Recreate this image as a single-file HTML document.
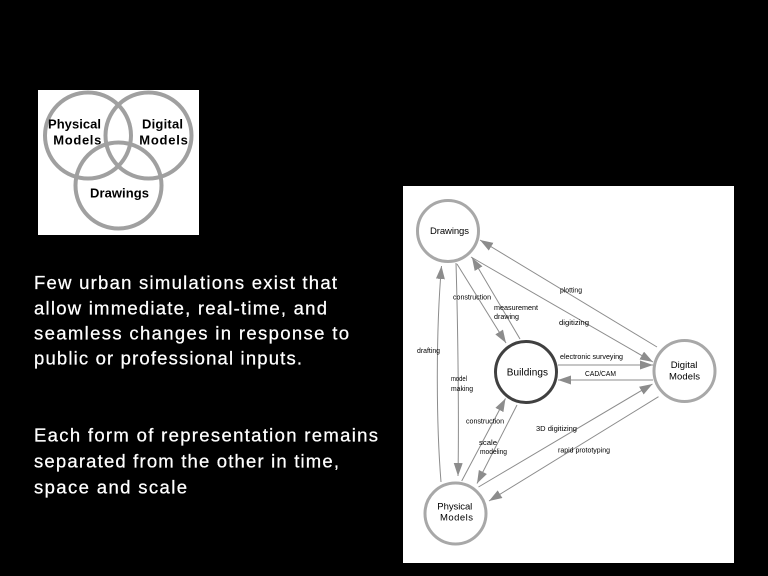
<!DOCTYPE html>
<html>
<head>
<meta charset="utf-8">
<style>
  html, body { margin:0; padding:0; background:#000; }
  body { width:768px; height:576px; overflow:hidden; }
  svg { display:block; }
  text { font-family: "Liberation Sans", Arial, sans-serif; }
</style>
</head>
<body>
<svg width="768" height="576" viewBox="0 0 768 576" xmlns="http://www.w3.org/2000/svg">
  <defs>
    <marker id="ah" markerUnits="userSpaceOnUse" markerWidth="14" markerHeight="10" refX="13" refY="4.5" orient="auto">
      <path d="M0,0 L13,4.5 L0,9 z" fill="#8c8c8c"/>
    </marker>
  </defs>
  <rect x="0" y="0" width="768" height="576" fill="#000"/>

  <!-- Venn diagram -->
  <rect x="38" y="90" width="161" height="145" fill="#fff"/>
  <g fill="none" stroke="#a0a0a0" stroke-width="4">
    <circle cx="88" cy="135.5" r="43"/>
    <circle cx="148.5" cy="135.5" r="43"/>
    <circle cx="118.5" cy="185.5" r="43"/>
  </g>
  <g font-weight="bold" font-size="13" fill="#000">
    <text x="48" y="128.7" textLength="53" lengthAdjust="spacing">Physical</text>
    <text x="53.3" y="144.7" textLength="48" lengthAdjust="spacing">Models</text>
    <text x="142" y="128.7" textLength="41" lengthAdjust="spacing">Digital</text>
    <text x="139.3" y="144.7" textLength="48.5" lengthAdjust="spacing">Models</text>
    <text x="90" y="197.3" textLength="59" lengthAdjust="spacing">Drawings</text>
  </g>

  <!-- Left text -->
  <g font-size="18.5" fill="#fff" stroke="#fff" stroke-width="0.25">
    <text x="34" y="289" textLength="303" lengthAdjust="spacing">Few urban simulations exist that</text>
    <text x="34" y="314.3" textLength="293" lengthAdjust="spacing">allow immediate, real-time, and</text>
    <text x="34" y="339.3" textLength="315" lengthAdjust="spacing">seamless changes in response to</text>
    <text x="34" y="364.3" textLength="268" lengthAdjust="spacing">public or professional inputs.</text>
    <text x="34" y="441.7" textLength="344" lengthAdjust="spacing">Each form of representation remains</text>
    <text x="34" y="467.3" textLength="305" lengthAdjust="spacing">separated from the other in time,</text>
    <text x="34" y="493.3" textLength="153" lengthAdjust="spacing">space and scale</text>
  </g>

  <!-- Right diagram -->
  <rect x="403" y="186" width="331" height="377" fill="#fff"/>

  <g fill="none" stroke="#8c8c8c" stroke-width="1" marker-end="url(#ah)">
    <path d="M441,482 C436,420 436,330 441.5,266"/>
    <path d="M456,263 C458,330 459,420 458,476"/>
    <path d="M457,264 L506,343"/>
    <path d="M520,339 L472,257.5"/>
    <path d="M471,257 L653,362"/>
    <path d="M657,347 L480,240"/>
    <path d="M558,365 L653,365"/>
    <path d="M653,380 L558,380"/>
    <path d="M461.7,481 L505.5,398.5"/>
    <path d="M517,405 L477,483.5"/>
    <path d="M478.5,487 L652.5,384"/>
    <path d="M658.5,396.7 L489,501"/>
  </g>

  <!-- nodes -->
  <g fill="#fff" stroke-width="3">
    <circle cx="448" cy="231" r="30.5" stroke="#a8a8a8"/>
    <circle cx="526" cy="372" r="30.5" stroke="#404040"/>
    <circle cx="684.5" cy="371" r="30.5" stroke="#a8a8a8"/>
    <circle cx="455.5" cy="513.5" r="30.5" stroke="#a8a8a8"/>
  </g>
  <g font-size="9.5" fill="#000">
    <text x="430" y="234" textLength="39" lengthAdjust="spacing">Drawings</text>
    <text x="506.7" y="375.5" font-size="10" textLength="41.3" lengthAdjust="spacing">Buildings</text>
    <text x="670.7" y="368" textLength="26.7" lengthAdjust="spacing">Digital</text>
    <text x="669" y="379.5" textLength="31" lengthAdjust="spacing">Models</text>
    <text x="437.3" y="509.5" textLength="35" lengthAdjust="spacing">Physical</text>
    <text x="440" y="520.5" textLength="33" lengthAdjust="spacing">Models</text>
  </g>

  <!-- edge labels -->
  <g font-size="7.5" fill="#000">
    <text x="560" y="292.5" textLength="22" lengthAdjust="spacingAndGlyphs">plotting</text>
    <text x="559" y="325" textLength="30" lengthAdjust="spacingAndGlyphs">digitizing</text>
    <text x="453" y="299.5" textLength="38" lengthAdjust="spacingAndGlyphs">construction</text>
    <text x="494" y="310" textLength="44" lengthAdjust="spacingAndGlyphs">measurement</text>
    <text x="494" y="319" textLength="25" lengthAdjust="spacingAndGlyphs">drawing</text>
    <text x="417" y="353" textLength="23" lengthAdjust="spacingAndGlyphs">drafting</text>
    <text x="560" y="359" textLength="63" lengthAdjust="spacingAndGlyphs">electronic surveying</text>
    <text x="585" y="376" textLength="31" lengthAdjust="spacingAndGlyphs">CAD/CAM</text>
    <text x="451" y="381" textLength="16" lengthAdjust="spacingAndGlyphs">model</text>
    <text x="451" y="391" textLength="22" lengthAdjust="spacingAndGlyphs">making</text>
    <text x="466" y="423.5" textLength="38" lengthAdjust="spacingAndGlyphs">construction</text>
    <text x="479" y="445" textLength="18" lengthAdjust="spacingAndGlyphs">scale</text>
    <text x="480" y="454" textLength="27" lengthAdjust="spacingAndGlyphs">modeling</text>
    <text x="536" y="431" textLength="41" lengthAdjust="spacingAndGlyphs">3D digitizing</text>
    <text x="558" y="452.5" textLength="52" lengthAdjust="spacingAndGlyphs">rapid prototyping</text>
  </g>
</svg>
</body>
</html>
